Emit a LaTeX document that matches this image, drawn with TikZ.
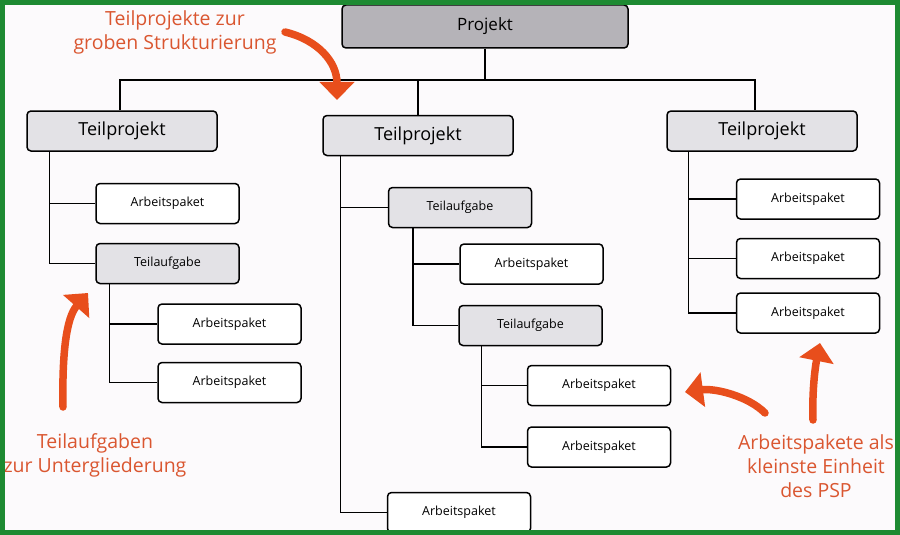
\documentclass[tikz,border=0pt]{standalone}
\usepackage{fontspec}
\setmainfont{Open Sans}
\usetikzlibrary{arrows.meta,positioning}
\definecolor{pgray}{RGB}{181,179,184}
\definecolor{tgray}{RGB}{227,226,230}
\definecolor{porange}{RGB}{232,78,28}
\definecolor{ptext}{RGB}{218,86,48}
\definecolor{pgreen}{RGB}{30,138,50}
\definecolor{pbg}{RGB}{252,250,252}

\begin{document}
\begin{tikzpicture}[x=1pt,y=-1pt,
  box/.style={draw,rounded corners=4pt,line width=1.5pt,inner sep=0pt,align=center},
  pbox/.style={box,fill=pgray,minimum width=286pt,minimum height=43pt,font=\fontsize{17}{20}\selectfont},
  tpbox/.style={box,fill=tgray,minimum width=190pt,minimum height=40pt,font=\fontsize{18}{20}\selectfont},
  tabox/.style={box,fill=tgray,minimum width=143pt,minimum height=40pt,font=\fontsize{12.5}{15}\selectfont},
  apbox/.style={box,fill=white,minimum width=143pt,minimum height=40pt,font=\fontsize{12.5}{15}\selectfont},
  link/.style={line width=1.5pt},
  note/.style={text=ptext,align=center,font=\fontsize{19.5}{24}\selectfont},
  arr/.style={-{Triangle[length=18pt,width=34pt]},line width=7.5pt,porange,line cap=round},
  ]
  \useasboundingbox (0,0) rectangle (900,535);
  \fill[pbg] (0,0) rectangle (900,535);

  % Baum
  \node[pbox] (proj) at (485,26.5) {Projekt};
  \node[tpbox] (tp1) at (122,131) {Teilprojekt};
  \node[tpbox] (tp2) at (418,135.5) {Teilprojekt};
  \node[tpbox] (tp3) at (762,131) {Teilprojekt};

  \node[apbox] (ap1) at (167.5,203.5) {Arbeitspaket};
  \node[tabox] (ta1) at (167.5,263.5) {Teilaufgabe};
  \node[apbox] (ap2) at (229.5,324) {Arbeitspaket};
  \node[apbox] (ap3) at (229.5,382.5) {Arbeitspaket};

  \node[tabox] (ta2) at (460,207.5) {Teilaufgabe};
  \node[apbox] (ap4) at (531.5,264) {Arbeitspaket};
  \node[tabox] (ta3) at (530.5,325.5) {Teilaufgabe};
  \node[apbox] (ap5) at (599,385.5) {Arbeitspaket};
  \node[apbox] (ap6) at (599,447) {Arbeitspaket};
  \node[apbox] (ap7) at (459,512.5) {Arbeitspaket};

  \node[apbox] (ap8) at (808,199) {Arbeitspaket};
  \node[apbox] (ap9) at (808,258.5) {Arbeitspaket};
  \node[apbox] (ap10) at (808,313) {Arbeitspaket};

  \coordinate (busL) at (120,80);
  \coordinate (busR) at (755,80);
  \draw[link] (tp1.north -| busL) -- (busL) -- (busR) -- (busR |- tp3.north);
  \draw[link] (proj.south) -- (proj.south |- busL);
  \draw[link] (tp2.north |- busL) -- (tp2.north);

  \draw[link] ([xshift=23pt]tp1.south west) |- (ap1.west);
  \draw[link] ([xshift=23pt]tp1.south west) |- (ta1.west);
  \draw[link] ([xshift=14pt]ta1.south west) |- (ap2.west);
  \draw[link] ([xshift=14pt]ta1.south west) |- (ap3.west);

  \draw[link] ([xshift=18pt]tp2.south west) |- (ta2.west);
  \draw[link] ([xshift=18pt]tp2.south west) |- (ap7.west);
  \draw[link] ([xshift=25pt]ta2.south west) |- (ap4.west);
  \draw[link] ([xshift=25pt]ta2.south west) |- (ta3.west);
  \draw[link] ([xshift=23pt]ta3.south west) |- (ap5.west);
  \draw[link] ([xshift=23pt]ta3.south west) |- (ap6.west);

  \draw[link] ([xshift=22pt]tp3.south west) |- (ap8.west);
  \draw[link] ([xshift=22pt]tp3.south west) |- (ap9.west);
  \draw[link] ([xshift=22pt]tp3.south west) |- (ap10.west);

  % Hinweise
  \node[note] (n1) at (175,32) {Teilprojekte zur\\groben Strukturierung};
  \node[note] (n2) at (95,455) {Teilaufgaben\\zur Untergliederung};
  \node[note] (n3) at (816,466) {Arbeitspakete als\\kleinste Einheit\\des PSP};

  \coordinate (a1s) at (285,32);  \coordinate (a1e) at (337,100);
  \coordinate (a2s) at (63,407);  \coordinate (a2e) at (88,293);
  \coordinate (a3s) at (765,413); \coordinate (a3e) at (685,392);
  \coordinate (a4s) at (813,420); \coordinate (a4e) at (820,343);
  \draw[arr] (a1s) .. controls (318,40) and (337,62) .. (a1e);
  \draw[arr] (a2s) .. controls (62,355) and (66,318) .. (a2e);
  \draw[arr] (a3s) .. controls (748,396) and (715,388) .. (a3e);
  \draw[arr] (a4s) .. controls (812,392) and (815,368) .. (a4e);

  \draw[pgreen,line width=5pt] (2.5,2.5) rectangle (897.5,532.5);
\end{tikzpicture}
\end{document}
